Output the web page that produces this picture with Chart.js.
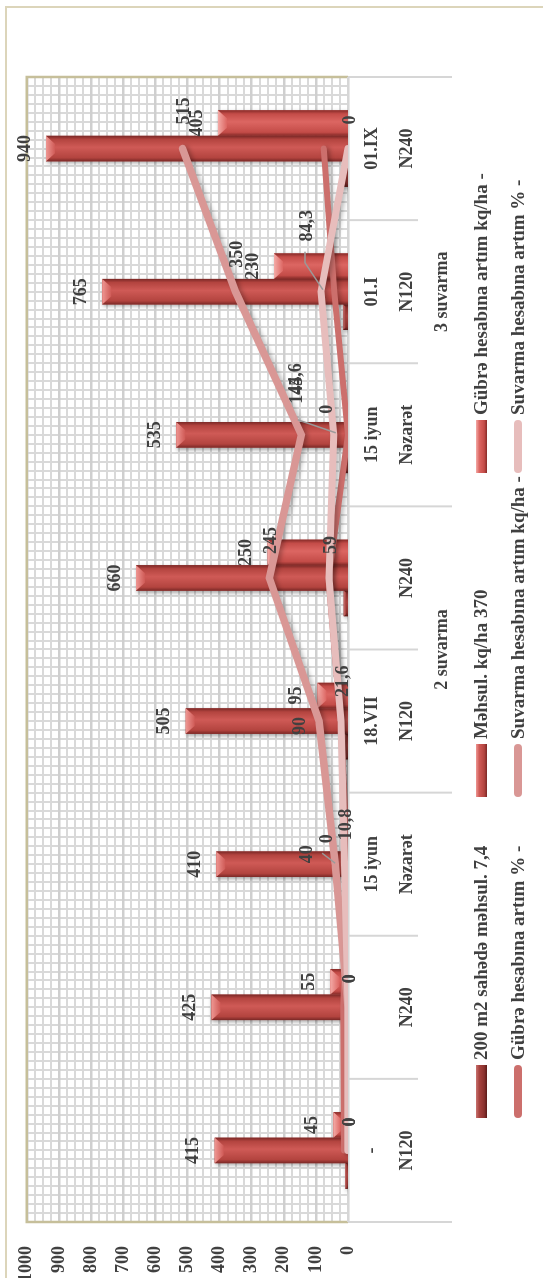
<!DOCTYPE html>
<html>
<head>
<meta charset="utf-8">
<script src="https://cdn.jsdelivr.net/npm/chart.js"></script>
<style>
  html, body { margin: 0; padding: 0; background: #fff; overflow: hidden; }
  #wrap {
    position: absolute; left: 0; top: 0; width: 1278px; height: 543px;
    transform-origin: 0 0;
    transform: translateY(1278px) rotate(-90deg);
  }
</style>
</head>
<body>
<div id="wrap"><canvas id="myChart" width="1278" height="543"></canvas></div>
<script>
  // categories (three label rows under the axis)
  var categories = ['N120', 'N240', 'Nəzarət', 'N120', 'N240', 'Nəzarət', 'N120', 'N240'];
  var dates = ['-', '', '15 iyun', '18.VII', '', '15 iyun', '01.I', '01.IX'];
  var groupNames = ['', '2 suvarma', '3 suvarma'];
  var groupEdges = [0, 3, 5, 8];

  var seriesNames = [
    '200 m2 sahədə məhsul. 7,4',
    'Məhsul. kq/ha 370',
    'Gübrə hesabına artım kq/ha -',
    'Gübrə hesabına artım % -',
    'Suvarma hesabına artım kq/ha -',
    'Suvarma hesabına artım % -'
  ];

  var mehsul200 = [8.3, 8.5, 8.2, 10.1, 13.2, 10.7, 15.3, 18.8];
  var mehsulKqHa = [415, 425, 410, 505, 660, 535, 765, 940];
  var gubreKqHa = [45, 55, 0, 95, 250, 0, 230, 405];
  var gubrePct = [12.2, 14.9, 0, 23.2, 61, 0, 43, 75.7];
  var suvarmaKqHa = [0, 0, 40, 90, 245, 145, 350, 515];
  var suvarmaPct = [0, 0, 10.8, 21.6, 59, 44.6, 84.3, 0];

  var valueMin = 0, valueMax = 1000, valueStep = 100;

  var FONT = 'bold 18px "Liberation Serif", "Times New Roman", serif';
  var LEGEND_FONT = 'bold 19px "Liberation Serif", "Times New Roman", serif';
  var TEXT = '#404040';

  // bar shading: edge, body, centre, bevel highlight
  var barPal = [
    ['#5a1b19', '#8a312e', '#a8433f', '#c8726f'],
    ['#7a2826', '#b3443f', '#cf5a56', '#ee9692'],
    ['#862b28', '#c44c48', '#dc6662', '#f4aaa6']
  ];
  var lineColors = ['#cc6f6c', '#d99795', '#e7bdbc'];
  var lineWidths = [6, 7.5, 7];

  // which datasets get value labels
  var labelled = { 1: 'bar', 2: 'bar', 4: 'line', 5: 'line' };
  // hand-placed line labels (offsets from the point)
  var labelMoves = {
    4: {
      2: { cx: 10, dy: -28, leader: [[11, -13], [1, 0]] },
      3: { cx: -5, dy: -19 },
      5: { left: 31, dy: -4 }
    },
    5: {
      5: { left: 40, dy: -37, leader: [[15, -36], [2, 2]] },
      6: { cx: 66, dy: -14, leader: [[40, -16], [29, -16], [2, 2]] }
    }
  };

  function fmt(v) { return String(v).replace('.', ','); }

  function lineSet(i, data, order) {
    return {
      type: 'line', label: seriesNames[i], data: data,
      borderColor: lineColors[i - 3], backgroundColor: lineColors[i - 3],
      borderWidth: lineWidths[i - 3], pointRadius: 0, tension: 0,
      borderCapStyle: 'round', borderJoinStyle: 'miter', order: order
    };
  }

  var datasets = [
    { type: 'bar', label: seriesNames[0], data: mehsul200, backgroundColor: barPal[0][1], order: 10 },
    { type: 'bar', label: seriesNames[1], data: mehsulKqHa, backgroundColor: barPal[1][1], order: 10 },
    { type: 'bar', label: seriesNames[2], data: gubreKqHa, backgroundColor: barPal[2][1], order: 10 },
    lineSet(3, gubrePct, 3),
    lineSet(4, suvarmaKqHa, 2),
    lineSet(5, suvarmaPct, 1)
  ];

  function paintBar(c, el, pal) {
    var p = el.getProps(['x', 'y', 'base', 'width'], true);
    var l = p.x - p.width / 2, r = p.x + p.width / 2;
    var t = Math.min(p.y, p.base), b = Math.max(p.y, p.base);
    if (b - t < 0.5) return;
    var g = c.createLinearGradient(l, 0, r, 0);
    g.addColorStop(0, pal[0]);
    g.addColorStop(0.14, pal[1]);
    g.addColorStop(0.55, pal[2]);
    g.addColorStop(0.86, pal[1]);
    g.addColorStop(1, pal[0]);
    c.fillStyle = g;
    c.fillRect(l, t, r - l, b - t);
    var bev = Math.min(9, (b - t) / 2);
    var hg = c.createLinearGradient(0, t, 0, t + bev);
    hg.addColorStop(0, pal[3]);
    hg.addColorStop(1, pal[2]);
    c.fillStyle = hg;
    c.beginPath();
    c.moveTo(l, t); c.lineTo(r, t);
    c.lineTo(r - bev * 0.9, t + bev); c.lineTo(l + bev * 0.9, t + bev);
    c.closePath(); c.fill();
  }

  function legendMarker(c, i, x, y) {
    if (i < 3) {
      var pal = barPal[i];
      var g = c.createLinearGradient(0, y - 5.5, 0, y + 5.5);
      g.addColorStop(0, pal[3]);
      g.addColorStop(0.3, pal[2]);
      g.addColorStop(0.75, pal[1]);
      g.addColorStop(1, pal[0]);
      c.fillStyle = g;
      c.fillRect(x, y - 5.5, 53, 11);
    } else {
      c.strokeStyle = lineColors[i - 3];
      c.lineWidth = 8; c.lineCap = 'round';
      c.beginPath(); c.moveTo(x + 4, y); c.lineTo(x + 49, y); c.stroke();
    }
  }

  var decor = {
    id: 'decor',
    beforeDatasetsDraw: function (chart) {
      var c = chart.ctx, a = chart.chartArea, xs = chart.scales.x;
      c.save();
      // outer frame of the chart object
      c.strokeStyle = '#dcd5ba'; c.lineWidth = 2;
      c.strokeRect(-10, 6, 1281, 600);
      // plot frame
      c.strokeStyle = '#c6bf9a'; c.lineWidth = 2.5;
      c.beginPath();
      c.moveTo(a.left, a.bottom); c.lineTo(a.left, a.top);
      c.lineTo(a.right, a.top); c.lineTo(a.right, a.bottom);
      c.stroke();
      // category axis and its tick marks
      c.strokeStyle = '#d6d6d6'; c.lineWidth = 2;
      c.beginPath(); c.moveTo(a.left, a.bottom); c.lineTo(a.right, a.bottom); c.stroke();
      for (var i = 0; i <= categories.length; i++) {
        var px = xs.getPixelForValue(i - 0.5);
        var long = groupEdges.indexOf(i) >= 0;
        c.beginPath(); c.moveTo(px, a.bottom); c.lineTo(px, long ? 452 : 418); c.stroke();
      }
      // category labels
      c.font = FONT; c.fillStyle = TEXT; c.textAlign = 'center'; c.textBaseline = 'alphabetic';
      categories.forEach(function (name, k) {
        var cx = xs.getPixelForValue(k);
        c.fillText(dates[k], cx, 377);
        c.fillText(name, cx, 412);
      });
      for (var gi = 0; gi < groupNames.length; gi++) {
        var gx = (xs.getPixelForValue(groupEdges[gi] - 0.5) + xs.getPixelForValue(groupEdges[gi + 1] - 0.5)) / 2;
        c.fillText(groupNames[gi], gx, 447);
      }
      // legend, two rows of three
      var cols = [160, 481, 805], rows = [481.5, 518];
      c.font = LEGEND_FONT; c.textAlign = 'left'; c.textBaseline = 'middle';
      seriesNames.forEach(function (name, k) {
        var x = cols[k % 3], y = rows[Math.floor(k / 3)];
        legendMarker(c, k, x, y);
        c.fillStyle = TEXT;
        c.fillText(name, x + 58, y + 1);
      });
      c.restore();
    },
    beforeDatasetDraw: function (chart, args) {
      var c = chart.ctx;
      c.save();
      if (chart.data.datasets[args.index].type === 'bar') {
        c.shadowColor = 'rgba(0,0,0,0.35)'; c.shadowBlur = 4;
        c.shadowOffsetX = -2; c.shadowOffsetY = 1;
      } else {
        c.shadowColor = 'rgba(0,0,0,0.25)'; c.shadowBlur = 4;
        c.shadowOffsetX = -1; c.shadowOffsetY = 3;
      }
    },
    afterDatasetDraw: function (chart, args) {
      var c = chart.ctx;
      c.restore();
      if (chart.data.datasets[args.index].type !== 'bar') return;
      c.save();
      args.meta.data.forEach(function (el) { paintBar(c, el, barPal[args.index]); });
      c.restore();
    },
    afterDatasetsDraw: function (chart) {
      var c = chart.ctx;
      c.save();
      c.font = FONT; c.fillStyle = TEXT; c.textBaseline = 'middle';
      Object.keys(labelled).forEach(function (key) {
        var di = +key, meta = chart.getDatasetMeta(di), data = chart.data.datasets[di].data;
        meta.data.forEach(function (el, k) {
          var txt = fmt(data[k]);
          if (labelled[di] === 'bar') {
            c.textAlign = 'center';
            c.fillText(txt, el.x, el.y - 21);
            return;
          }
          var mv = (labelMoves[di] || {})[k];
          if (mv && mv.leader) {
            c.strokeStyle = '#9a9a9a'; c.lineWidth = 1.5;
            c.beginPath();
            mv.leader.forEach(function (pt, n) {
              if (n === 0) c.moveTo(el.x + pt[0], el.y + pt[1]);
              else c.lineTo(el.x + pt[0], el.y + pt[1]);
            });
            c.stroke();
          }
          if (mv && mv.cx !== undefined) {
            c.textAlign = 'center';
            c.fillText(txt, el.x + mv.cx, el.y + mv.dy);
          } else if (mv) {
            c.textAlign = 'left';
            c.fillText(txt, el.x + mv.left, el.y + mv.dy);
          } else {
            c.textAlign = 'left';
            c.fillText(txt, el.x + 24, el.y + 2);
          }
        });
      });
      c.restore();
    }
  };

  var gridColor = '#d9d9d9';

  new Chart(document.getElementById('myChart'), {
    data: { labels: categories, datasets: datasets },
    options: {
      responsive: false,
      animation: false,
      devicePixelRatio: 1,
      layout: { padding: { left: 0, right: 77, top: 17, bottom: 195 } },
      datasets: { bar: { categoryPercentage: 0.535, barPercentage: 1, borderWidth: 0 } },
      plugins: { legend: { display: false }, tooltip: { enabled: false } },
      scales: {
        x: {
          type: 'category', offset: true,
          grid: { display: false }, border: { display: false },
          ticks: { display: false },
          afterFit: function (s) { s.height = 0; }
        },
        gx: {
          type: 'linear', position: 'bottom', min: 0, max: 128,
          grid: { color: gridColor, lineWidth: 2, drawTicks: false },
          border: { display: false },
          ticks: { display: false, stepSize: 1 },
          afterFit: function (s) { s.height = 0; }
        },
        y: {
          type: 'linear', position: 'left', min: valueMin, max: valueMax,
          grid: { display: false }, border: { display: false },
          ticks: {
            stepSize: valueStep, padding: 16, color: TEXT,
            font: { family: '"Liberation Serif", "Times New Roman", serif', size: 18, weight: 'bold' },
            callback: function (v) { return String(v); }
          },
          afterFit: function (s) { s.width = 56; }
        },
        gy: {
          type: 'linear', position: 'right', min: valueMin, max: valueMax,
          grid: {
            drawTicks: false,
            color: function (ctx) { return ctx.tick && ctx.tick.value % 100 === 0 ? '#cfcfcf' : gridColor; },
            lineWidth: function (ctx) { return ctx.tick && ctx.tick.value % 100 === 0 ? 2.5 : 2; }
          },
          border: { display: false },
          ticks: { display: false, stepSize: 25 },
          afterFit: function (s) { s.width = 0; }
        }
      }
    },
    plugins: [decor]
  });
</script>
</body>
</html>
